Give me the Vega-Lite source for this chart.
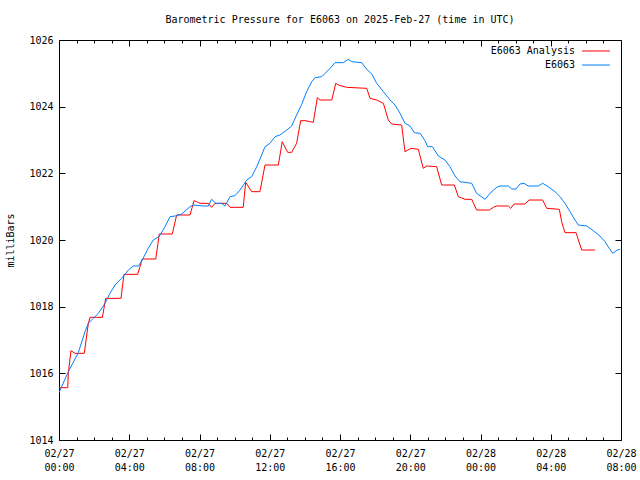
{
  "$schema": "https://vega.github.io/schema/vega-lite/v6.json",
  "width": 562,
  "height": 400,
  "autosize": "none",
  "padding": {"left": 59, "top": 40, "right": 19, "bottom": 40},
  "background": "white",
  "title": {"text": "Barometric Pressure for E6063 on 2025-Feb-27 (time in UTC)", "font": "DejaVu Sans Mono", "fontSize": 10, "fontWeight": "normal", "color": "black", "anchor": "middle", "offset": 10},
  "config": {
    "view": {"stroke": "black", "strokeWidth": 1},
    "axis": {"grid": false, "domain": false, "labelFont": "DejaVu Sans Mono", "labelFontSize": 10, "labelColor": "black", "titleFont": "DejaVu Sans Mono", "titleFontSize": 10, "titleFontWeight": "normal", "titleColor": "black", "tickColor": "black", "tickWidth": 1}
  },
  "datasets": {
    "pressure": [
      {"series": "E6063 Analysis", "hour": 0.0, "mbar": 1015.57},
      {"series": "E6063 Analysis", "hour": 0.5, "mbar": 1015.57},
      {"series": "E6063 Analysis", "hour": 0.53, "mbar": 1016.0},
      {"series": "E6063 Analysis", "hour": 0.68, "mbar": 1016.68},
      {"series": "E6063 Analysis", "hour": 0.91, "mbar": 1016.6},
      {"series": "E6063 Analysis", "hour": 1.44, "mbar": 1016.6},
      {"series": "E6063 Analysis", "hour": 1.67, "mbar": 1017.5},
      {"series": "E6063 Analysis", "hour": 1.77, "mbar": 1017.68},
      {"series": "E6063 Analysis", "hour": 2.47, "mbar": 1017.68},
      {"series": "E6063 Analysis", "hour": 2.66, "mbar": 1018.25},
      {"series": "E6063 Analysis", "hour": 3.53, "mbar": 1018.25},
      {"series": "E6063 Analysis", "hour": 3.7, "mbar": 1018.97},
      {"series": "E6063 Analysis", "hour": 4.48, "mbar": 1018.97},
      {"series": "E6063 Analysis", "hour": 4.74, "mbar": 1019.43},
      {"series": "E6063 Analysis", "hour": 5.51, "mbar": 1019.43},
      {"series": "E6063 Analysis", "hour": 5.71, "mbar": 1020.18},
      {"series": "E6063 Analysis", "hour": 6.45, "mbar": 1020.18},
      {"series": "E6063 Analysis", "hour": 6.7, "mbar": 1020.75},
      {"series": "E6063 Analysis", "hour": 7.46, "mbar": 1020.75},
      {"series": "E6063 Analysis", "hour": 7.69, "mbar": 1021.18},
      {"series": "E6063 Analysis", "hour": 7.84, "mbar": 1021.15},
      {"series": "E6063 Analysis", "hour": 8.03, "mbar": 1021.1},
      {"series": "E6063 Analysis", "hour": 8.5, "mbar": 1021.1},
      {"series": "E6063 Analysis", "hour": 8.69, "mbar": 1020.98},
      {"series": "E6063 Analysis", "hour": 8.88, "mbar": 1021.1},
      {"series": "E6063 Analysis", "hour": 9.55, "mbar": 1021.1},
      {"series": "E6063 Analysis", "hour": 9.74, "mbar": 1020.98},
      {"series": "E6063 Analysis", "hour": 10.49, "mbar": 1020.98},
      {"series": "E6063 Analysis", "hour": 10.63, "mbar": 1021.73},
      {"series": "E6063 Analysis", "hour": 10.97, "mbar": 1021.45},
      {"series": "E6063 Analysis", "hour": 11.44, "mbar": 1021.45},
      {"series": "E6063 Analysis", "hour": 11.73, "mbar": 1022.25},
      {"series": "E6063 Analysis", "hour": 12.49, "mbar": 1022.25},
      {"series": "E6063 Analysis", "hour": 12.71, "mbar": 1022.95},
      {"series": "E6063 Analysis", "hour": 13.02, "mbar": 1022.63},
      {"series": "E6063 Analysis", "hour": 13.25, "mbar": 1022.63},
      {"series": "E6063 Analysis", "hour": 13.53, "mbar": 1022.9},
      {"series": "E6063 Analysis", "hour": 13.76, "mbar": 1023.58},
      {"series": "E6063 Analysis", "hour": 14.01, "mbar": 1023.58},
      {"series": "E6063 Analysis", "hour": 14.48, "mbar": 1023.53},
      {"series": "E6063 Analysis", "hour": 14.71, "mbar": 1024.27},
      {"series": "E6063 Analysis", "hour": 14.86, "mbar": 1024.2},
      {"series": "E6063 Analysis", "hour": 15.53, "mbar": 1024.2},
      {"series": "E6063 Analysis", "hour": 15.76, "mbar": 1024.7},
      {"series": "E6063 Analysis", "hour": 15.9, "mbar": 1024.65},
      {"series": "E6063 Analysis", "hour": 16.38, "mbar": 1024.58},
      {"series": "E6063 Analysis", "hour": 17.52, "mbar": 1024.55},
      {"series": "E6063 Analysis", "hour": 17.71, "mbar": 1024.25},
      {"series": "E6063 Analysis", "hour": 18.09, "mbar": 1024.2},
      {"series": "E6063 Analysis", "hour": 18.47, "mbar": 1024.1},
      {"series": "E6063 Analysis", "hour": 18.75, "mbar": 1023.6},
      {"series": "E6063 Analysis", "hour": 18.94, "mbar": 1023.48},
      {"series": "E6063 Analysis", "hour": 19.51, "mbar": 1023.45},
      {"series": "E6063 Analysis", "hour": 19.7, "mbar": 1022.65},
      {"series": "E6063 Analysis", "hour": 20.04, "mbar": 1022.75},
      {"series": "E6063 Analysis", "hour": 20.46, "mbar": 1022.72},
      {"series": "E6063 Analysis", "hour": 20.74, "mbar": 1022.15},
      {"series": "E6063 Analysis", "hour": 20.93, "mbar": 1022.22},
      {"series": "E6063 Analysis", "hour": 21.5, "mbar": 1022.2},
      {"series": "E6063 Analysis", "hour": 21.79, "mbar": 1021.65},
      {"series": "E6063 Analysis", "hour": 22.51, "mbar": 1021.65},
      {"series": "E6063 Analysis", "hour": 22.74, "mbar": 1021.3},
      {"series": "E6063 Analysis", "hour": 23.12, "mbar": 1021.22},
      {"series": "E6063 Analysis", "hour": 23.5, "mbar": 1021.22},
      {"series": "E6063 Analysis", "hour": 23.78, "mbar": 1020.9},
      {"series": "E6063 Analysis", "hour": 24.5, "mbar": 1020.9},
      {"series": "E6063 Analysis", "hour": 24.73, "mbar": 1020.98},
      {"series": "E6063 Analysis", "hour": 24.92, "mbar": 1021.02},
      {"series": "E6063 Analysis", "hour": 25.58, "mbar": 1021.02},
      {"series": "E6063 Analysis", "hour": 25.72, "mbar": 1020.95},
      {"series": "E6063 Analysis", "hour": 25.91, "mbar": 1021.08},
      {"series": "E6063 Analysis", "hour": 26.54, "mbar": 1021.08},
      {"series": "E6063 Analysis", "hour": 26.76, "mbar": 1021.2},
      {"series": "E6063 Analysis", "hour": 27.54, "mbar": 1021.2},
      {"series": "E6063 Analysis", "hour": 27.77, "mbar": 1020.95},
      {"series": "E6063 Analysis", "hour": 28.49, "mbar": 1020.92},
      {"series": "E6063 Analysis", "hour": 28.62, "mbar": 1020.55},
      {"series": "E6063 Analysis", "hour": 28.81, "mbar": 1020.22},
      {"series": "E6063 Analysis", "hour": 29.44, "mbar": 1020.22},
      {"series": "E6063 Analysis", "hour": 29.76, "mbar": 1019.7},
      {"series": "E6063 Analysis", "hour": 30.52, "mbar": 1019.7},
      {"series": "E6063", "hour": 0.0, "mbar": 1015.42},
      {"series": "E6063", "hour": 0.53, "mbar": 1016.05},
      {"series": "E6063", "hour": 1.1, "mbar": 1016.62},
      {"series": "E6063", "hour": 1.48, "mbar": 1017.25},
      {"series": "E6063", "hour": 1.67, "mbar": 1017.5},
      {"series": "E6063", "hour": 1.95, "mbar": 1017.65},
      {"series": "E6063", "hour": 2.24, "mbar": 1017.8},
      {"series": "E6063", "hour": 2.62, "mbar": 1018.1},
      {"series": "E6063", "hour": 2.9, "mbar": 1018.4},
      {"series": "E6063", "hour": 3.19, "mbar": 1018.65},
      {"series": "E6063", "hour": 3.57, "mbar": 1018.85},
      {"series": "E6063", "hour": 3.95, "mbar": 1019.1},
      {"series": "E6063", "hour": 4.23, "mbar": 1019.22},
      {"series": "E6063", "hour": 4.52, "mbar": 1019.22},
      {"series": "E6063", "hour": 4.74, "mbar": 1019.4},
      {"series": "E6063", "hour": 5.08, "mbar": 1019.75},
      {"series": "E6063", "hour": 5.37, "mbar": 1020.0},
      {"series": "E6063", "hour": 5.69, "mbar": 1020.1},
      {"series": "E6063", "hour": 6.04, "mbar": 1020.4},
      {"series": "E6063", "hour": 6.32, "mbar": 1020.7},
      {"series": "E6063", "hour": 6.61, "mbar": 1020.72},
      {"series": "E6063", "hour": 6.99, "mbar": 1020.78},
      {"series": "E6063", "hour": 7.46, "mbar": 1021.0},
      {"series": "E6063", "hour": 7.65, "mbar": 1021.05},
      {"series": "E6063", "hour": 8.22, "mbar": 1021.02},
      {"series": "E6063", "hour": 8.5, "mbar": 1021.02},
      {"series": "E6063", "hour": 8.69, "mbar": 1021.22},
      {"series": "E6063", "hour": 8.94, "mbar": 1021.1},
      {"series": "E6063", "hour": 9.26, "mbar": 1021.1},
      {"series": "E6063", "hour": 9.45, "mbar": 1021.02},
      {"series": "E6063", "hour": 9.74, "mbar": 1021.3},
      {"series": "E6063", "hour": 10.02, "mbar": 1021.33},
      {"series": "E6063", "hour": 10.31, "mbar": 1021.5},
      {"series": "E6063", "hour": 10.69, "mbar": 1021.8},
      {"series": "E6063", "hour": 10.97, "mbar": 1021.9},
      {"series": "E6063", "hour": 11.26, "mbar": 1022.2},
      {"series": "E6063", "hour": 11.54, "mbar": 1022.55},
      {"series": "E6063", "hour": 11.73, "mbar": 1022.8},
      {"series": "E6063", "hour": 12.01, "mbar": 1022.9},
      {"series": "E6063", "hour": 12.3, "mbar": 1023.1},
      {"series": "E6063", "hour": 12.58, "mbar": 1023.15},
      {"series": "E6063", "hour": 12.97, "mbar": 1023.3},
      {"series": "E6063", "hour": 13.25, "mbar": 1023.42},
      {"series": "E6063", "hour": 13.53, "mbar": 1023.75},
      {"series": "E6063", "hour": 13.82, "mbar": 1024.07},
      {"series": "E6063", "hour": 14.1, "mbar": 1024.45},
      {"series": "E6063", "hour": 14.39, "mbar": 1024.75},
      {"series": "E6063", "hour": 14.58, "mbar": 1024.87},
      {"series": "E6063", "hour": 14.96, "mbar": 1024.9},
      {"series": "E6063", "hour": 15.15, "mbar": 1025.0},
      {"series": "E6063", "hour": 15.43, "mbar": 1025.15},
      {"series": "E6063", "hour": 15.72, "mbar": 1025.32},
      {"series": "E6063", "hour": 16.19, "mbar": 1025.32},
      {"series": "E6063", "hour": 16.47, "mbar": 1025.42},
      {"series": "E6063", "hour": 16.67, "mbar": 1025.35},
      {"series": "E6063", "hour": 17.24, "mbar": 1025.32},
      {"series": "E6063", "hour": 17.52, "mbar": 1025.12},
      {"series": "E6063", "hour": 17.81, "mbar": 1024.98},
      {"series": "E6063", "hour": 18.09, "mbar": 1024.7},
      {"series": "E6063", "hour": 18.47, "mbar": 1024.45},
      {"series": "E6063", "hour": 18.85, "mbar": 1024.2},
      {"series": "E6063", "hour": 19.13, "mbar": 1024.05},
      {"series": "E6063", "hour": 19.42, "mbar": 1023.8},
      {"series": "E6063", "hour": 19.7, "mbar": 1023.5},
      {"series": "E6063", "hour": 19.99, "mbar": 1023.42},
      {"series": "E6063", "hour": 20.23, "mbar": 1023.22},
      {"series": "E6063", "hour": 20.56, "mbar": 1023.2},
      {"series": "E6063", "hour": 20.84, "mbar": 1022.98},
      {"series": "E6063", "hour": 20.99, "mbar": 1022.8},
      {"series": "E6063", "hour": 21.26, "mbar": 1022.8},
      {"series": "E6063", "hour": 21.6, "mbar": 1022.52},
      {"series": "E6063", "hour": 21.98, "mbar": 1022.4},
      {"series": "E6063", "hour": 22.26, "mbar": 1022.2},
      {"series": "E6063", "hour": 22.55, "mbar": 1021.92},
      {"series": "E6063", "hour": 22.83, "mbar": 1021.75},
      {"series": "E6063", "hour": 23.5, "mbar": 1021.7},
      {"series": "E6063", "hour": 23.78, "mbar": 1021.4},
      {"series": "E6063", "hour": 24.26, "mbar": 1021.22},
      {"series": "E6063", "hour": 24.54, "mbar": 1021.4},
      {"series": "E6063", "hour": 24.92, "mbar": 1021.58},
      {"series": "E6063", "hour": 25.11, "mbar": 1021.62},
      {"series": "E6063", "hour": 25.58, "mbar": 1021.62},
      {"series": "E6063", "hour": 25.78, "mbar": 1021.53},
      {"series": "E6063", "hour": 26.02, "mbar": 1021.53},
      {"series": "E6063", "hour": 26.25, "mbar": 1021.68},
      {"series": "E6063", "hour": 26.48, "mbar": 1021.7},
      {"series": "E6063", "hour": 26.72, "mbar": 1021.62},
      {"series": "E6063", "hour": 27.29, "mbar": 1021.62},
      {"series": "E6063", "hour": 27.54, "mbar": 1021.7},
      {"series": "E6063", "hour": 27.86, "mbar": 1021.6},
      {"series": "E6063", "hour": 28.24, "mbar": 1021.45},
      {"series": "E6063", "hour": 28.53, "mbar": 1021.3},
      {"series": "E6063", "hour": 28.81, "mbar": 1021.1},
      {"series": "E6063", "hour": 29.1, "mbar": 1020.85},
      {"series": "E6063", "hour": 29.38, "mbar": 1020.6},
      {"series": "E6063", "hour": 29.57, "mbar": 1020.45},
      {"series": "E6063", "hour": 30.05, "mbar": 1020.42},
      {"series": "E6063", "hour": 30.42, "mbar": 1020.28},
      {"series": "E6063", "hour": 30.8, "mbar": 1020.12},
      {"series": "E6063", "hour": 31.09, "mbar": 1019.95},
      {"series": "E6063", "hour": 31.33, "mbar": 1019.75},
      {"series": "E6063", "hour": 31.53, "mbar": 1019.6},
      {"series": "E6063", "hour": 31.79, "mbar": 1019.7},
      {"series": "E6063", "hour": 31.94, "mbar": 1019.72}
    ]
  },
  "resolve": {"axis": {"x": "independent", "y": "independent"}},
  "layer": [
    {
      "data": {"name": "pressure"},
      "transform": [{"filter": "datum.series === 'E6063 Analysis'"}],
      "mark": {"type": "line", "color": "#ff0000", "strokeWidth": 1, "clip": true},
      "encoding": {
        "x": {"field": "hour", "type": "quantitative", "scale": {"domain": [0, 32], "nice": false, "zero": false},
          "axis": {"orient": "bottom", "values": [0, 4, 8, 12, 16, 20, 24, 28, 32], "tickSize": -6, "labelPadding": 14, "labelLineHeight": 14, "labelBaseline": "top", "labelFlush": false, "labelOverlap": false,
            "labelExpr": "[datum.value < 24 ? '02/27' : '02/28', (datum.value % 24 < 10 ? '0' : '') + (datum.value % 24) + ':00']", "title": null}},
        "y": {"field": "mbar", "type": "quantitative", "scale": {"domain": [1014, 1026], "nice": false, "zero": false},
          "axis": {"orient": "left", "values": [1014, 1016, 1018, 1020, 1022, 1024, 1026], "format": "d", "tickSize": -6, "labelPadding": 12, "title": "milliBars", "titlePadding": 13, "labelFlush": false}}
      }
    },
    {
      "data": {"name": "pressure"},
      "transform": [{"filter": "datum.series === 'E6063'"}],
      "mark": {"type": "line", "color": "#0080ff", "strokeWidth": 1, "clip": true},
      "encoding": {
        "x": {"field": "hour", "type": "quantitative",
          "axis": {"orient": "bottom", "values": [1,2,3,5,6,7,9,10,11,13,14,15,17,18,19,21,22,23,25,26,27,29,30,31], "tickSize": -3, "labels": false, "title": null}},
        "y": {"field": "mbar", "type": "quantitative",
          "axis": {"orient": "right", "values": [1014, 1016, 1018, 1020, 1022, 1024, 1026], "tickSize": -6, "labels": false, "title": null}}
      }
    },
    {
      "data": {"values": [{"series": "E6063 Analysis"}]},
      "mark": {"type": "text", "align": "right", "baseline": "middle", "font": "DejaVu Sans Mono", "fontSize": 10, "color": "black"},
      "encoding": {
        "text": {"field": "series"},
        "x": {"datum": 29.38, "type": "quantitative", "axis": {"orient": "top", "values": [4, 8, 12, 16, 20, 24, 28], "tickSize": -6, "labels": false, "title": null}},
        "y": {"datum": 1025.67, "type": "quantitative", "axis": null}
      }
    },
    {
      "data": {"values": [{"series": "E6063"}]},
      "mark": {"type": "text", "align": "right", "baseline": "middle", "font": "DejaVu Sans Mono", "fontSize": 10, "color": "black"},
      "encoding": {
        "text": {"field": "series"},
        "x": {"datum": 29.38, "type": "quantitative", "axis": {"orient": "top", "values": [1,2,3,5,6,7,9,10,11,13,14,15,17,18,19,21,22,23,25,26,27,29,30,31], "tickSize": -3, "labels": false, "title": null}},
        "y": {"datum": 1025.25, "type": "quantitative", "axis": null}
      }
    },
    {
      "data": {"values": [{"series": "E6063 Analysis"}]},
      "mark": {"type": "rule", "color": "#ff0000", "strokeWidth": 1},
      "encoding": {
        "x": {"datum": 29.78, "type": "quantitative", "axis": null},
        "x2": {"datum": 31.37},
        "y": {"datum": 1025.67, "type": "quantitative", "axis": null}
      }
    },
    {
      "data": {"values": [{"series": "E6063"}]},
      "mark": {"type": "rule", "color": "#0080ff", "strokeWidth": 1},
      "encoding": {
        "x": {"datum": 29.78, "type": "quantitative", "axis": null},
        "x2": {"datum": 31.37},
        "y": {"datum": 1025.25, "type": "quantitative", "axis": null}
      }
    }
  ]
}
